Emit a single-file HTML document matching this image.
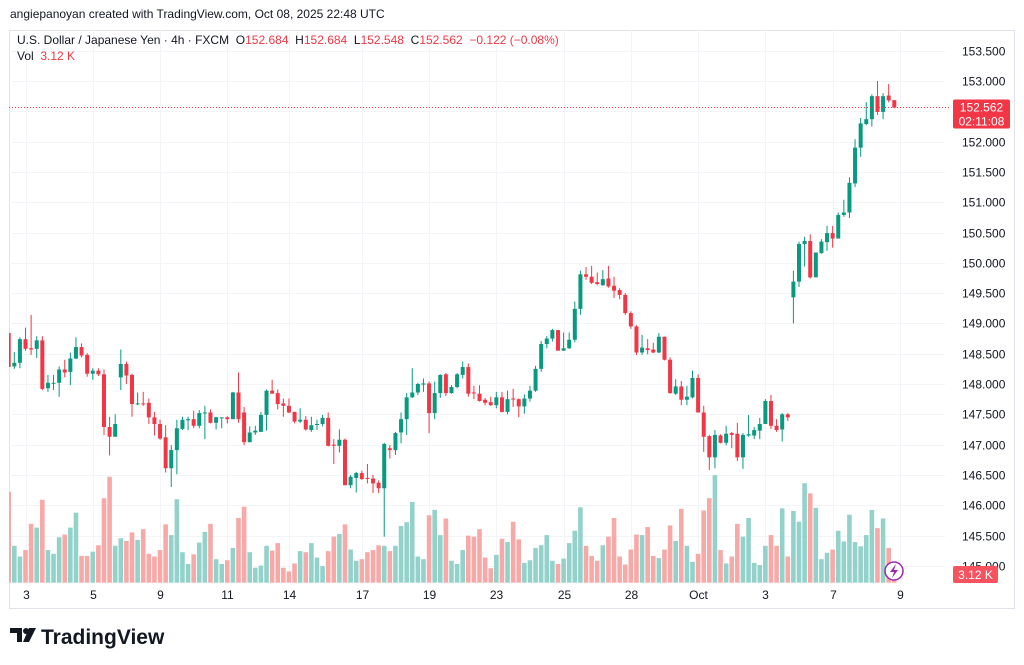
<!DOCTYPE html>
<html>
<head>
<meta charset="utf-8">
<style>
html,body{margin:0;padding:0;background:#fff;}
body{width:1024px;height:665px;position:relative;overflow:hidden;font-family:"Liberation Sans",sans-serif;color:#131722;}
.t{position:absolute;font-size:12px;white-space:nowrap;}
.red{color:#f23645;}
</style>
</head>
<body>
<svg id="chart" width="1024" height="665" style="position:absolute;left:0;top:0;" xmlns="http://www.w3.org/2000/svg">
<defs><clipPath id="pane"><rect x="9" y="30" width="936" height="553"/></clipPath></defs>
<rect x="9.5" y="30.5" width="1005" height="578" fill="none" stroke="#e0e3eb"/>
<g id="grid"></g>
<g id="vols" clip-path="url(#pane)"></g>
<g id="candles" clip-path="url(#pane)"></g>
<g id="axes"></g>
</svg>

<div class="t" style="left:10px;top:7px;font-size:12px;">angiepanoyan created with TradingView.com, Oct 08, 2025 22:48 UTC</div>
<div class="t" style="left:17px;top:33px;">U.S. Dollar / Japanese Yen · 4h · FXCM &nbsp;O<span class="red">152.684</span> &nbsp;H<span class="red">152.684</span> &nbsp;L<span class="red">152.548</span> &nbsp;C<span class="red">152.562</span> &nbsp;<span class="red">−0.122 (−0.08%)</span></div>
<div class="t" style="left:17px;top:49px;">Vol &nbsp;<span class="red">3.12 K</span></div>

<svg width="200" height="30" style="position:absolute;left:8px;top:623px">
<path d="M2 5h12v14h-5v-9h-7z" fill="#131722"/>
<circle cx="18" cy="8" r="3" fill="#131722"/>
<path d="M21 5h7l-7 14h-6z" fill="#131722"/>
<text x="33" y="21" font-family="Liberation Sans, sans-serif" font-size="21" font-weight="bold" fill="#131722">TradingView</text>
</svg>

<script>
const opens =  [148.84,148.29,148.35,148.74,148.59,148.58,148.72,147.93,148.01,148.02,148.24,148.20,148.42,148.61,148.48,148.17,148.22,148.16,147.29,147.13,148.11,148.33,148.15,147.67,147.68,147.69,147.45,147.34,147.12,146.61,146.91,147.26,147.40,147.42,147.31,147.52,147.53,147.36,147.44,147.45,147.42,147.86,147.53,147.04,147.20,147.21,147.49,147.89,147.85,147.68,147.64,147.54,147.38,147.41,147.24,147.33,147.34,147.44,147.00,146.98,147.08,146.33,146.45,146.53,146.45,146.44,146.37,146.28,146.94,146.91,147.20,147.42,147.78,147.86,147.99,148.01,147.52,147.85,148.16,147.85,147.95,148.15,148.28,147.86,147.84,147.74,147.70,147.65,147.78,147.54,147.76,147.75,147.63,147.76,147.89,148.25,148.66,148.75,148.89,148.55,148.59,148.73,149.24,149.81,149.77,149.68,149.63,149.74,149.62,149.55,149.47,149.17,148.95,148.52,148.59,148.57,148.52,148.78,148.40,147.84,147.96,147.74,147.78,148.10,147.53,147.14,146.79,147.15,147.03,147.19,147.18,146.79,147.15,147.15,147.23,147.34,147.72,147.31,147.25,147.50,149.43,149.69,150.31,150.36,149.76,150.16,150.34,150.49,150.40,150.79,150.83,151.31,151.90,152.29,152.37,152.75,152.49,152.76,152.684];
const highs =  [148.84,148.53,148.77,148.93,149.14,148.79,148.79,148.15,148.15,148.29,148.40,148.52,148.77,148.67,148.51,148.26,148.26,148.24,147.46,147.50,148.57,148.37,148.17,147.86,147.87,147.76,147.54,147.41,147.32,146.99,147.41,147.46,147.46,147.56,147.57,147.64,147.58,147.46,147.45,147.47,147.87,148.19,147.62,147.30,147.31,147.54,147.91,148.07,147.91,147.76,147.76,147.54,147.60,147.47,147.46,147.41,147.49,147.53,147.09,147.25,147.10,146.50,146.55,146.57,146.68,146.50,146.41,147.03,146.99,147.21,147.53,147.85,148.26,148.02,148.09,148.04,148.04,148.16,148.18,147.98,148.18,148.37,148.34,147.97,147.98,147.77,147.79,147.87,147.87,147.89,147.92,147.76,147.83,147.97,148.30,148.71,148.79,148.91,148.89,148.85,148.85,149.36,149.87,149.93,149.95,149.84,149.88,149.95,149.77,149.58,149.50,149.20,148.97,148.81,148.74,148.68,148.84,148.78,148.44,148.08,148.05,147.97,148.22,148.16,147.64,147.16,147.24,147.17,147.31,147.21,147.36,147.19,147.49,147.29,147.44,147.75,147.82,147.42,147.52,147.52,149.87,150.35,150.43,150.47,150.17,150.39,150.61,150.61,150.83,151.04,151.41,152.04,152.39,152.65,152.78,153.00,152.80,152.95,152.684];
const lows =   [148.28,148.25,148.26,148.55,148.48,148.43,147.90,147.87,147.90,147.79,148.11,147.98,148.41,148.44,148.12,148.07,148.13,147.16,146.82,147.13,147.90,148.00,147.46,147.65,147.64,147.34,147.15,147.08,146.54,146.30,146.51,147.24,147.24,147.27,147.27,147.09,147.35,147.25,147.27,147.35,147.42,147.36,146.99,147.04,147.16,147.21,147.23,147.84,147.58,147.46,147.52,147.35,147.36,147.23,147.21,147.24,147.30,146.97,146.68,146.87,146.33,146.28,146.21,146.42,146.36,146.20,146.20,145.48,146.77,146.83,147.02,147.16,147.77,147.82,147.87,147.19,147.42,147.77,147.80,147.84,147.93,148.09,147.79,147.75,147.71,147.65,147.64,147.60,147.53,147.50,147.62,147.45,147.51,147.71,147.87,148.20,148.59,148.70,148.55,148.55,148.58,148.69,149.14,149.72,149.65,149.63,149.62,149.59,149.42,149.40,149.14,148.91,148.48,148.48,148.49,148.51,148.51,148.39,147.84,147.82,147.65,147.65,147.76,147.53,146.88,146.58,146.61,147.02,146.99,146.94,146.73,146.60,147.13,147.09,147.09,147.34,147.26,147.21,147.05,147.39,149.00,149.60,149.94,149.74,149.76,150.15,150.20,150.25,150.40,150.76,150.74,151.25,151.75,152.27,152.25,152.44,152.37,152.65,152.548];
const closes = [148.28,148.35,148.74,148.58,148.57,148.72,147.92,148.02,148.02,148.24,148.19,148.42,148.61,148.47,148.17,148.22,148.16,147.29,147.13,147.34,148.33,148.14,147.67,147.68,147.67,147.45,147.34,147.10,146.61,146.91,147.27,147.41,147.42,147.31,147.52,147.53,147.36,147.45,147.45,147.42,147.86,147.42,147.04,147.20,147.23,147.49,147.89,147.84,147.67,147.64,147.53,147.38,147.41,147.25,147.32,147.34,147.44,146.98,146.98,147.08,146.33,146.47,146.53,146.43,146.44,146.36,146.28,147.01,146.91,147.19,147.42,147.78,147.86,148.00,148.01,147.52,147.85,148.15,147.85,147.95,148.16,148.28,147.84,147.85,147.72,147.69,147.65,147.78,147.54,147.75,147.75,147.63,147.76,147.89,148.25,148.66,148.75,148.89,148.55,148.59,148.73,149.24,149.81,149.77,149.67,149.65,149.73,149.61,149.54,149.47,149.17,148.95,148.52,148.60,148.56,148.52,148.78,148.40,147.85,147.96,147.74,147.79,148.10,147.53,147.13,146.79,147.16,147.03,147.18,147.16,146.79,147.16,147.17,147.24,147.34,147.72,147.31,147.24,147.50,147.45,149.69,150.31,150.36,149.76,150.17,150.35,150.49,150.40,150.79,150.83,151.32,151.90,152.30,152.37,152.75,152.49,152.75,152.68,152.562];
const volumes = [17.0,6.9,4.9,6.1,11.0,10.3,15.5,6.1,5.4,8.5,9.0,10.3,13.1,5.0,5.0,5.8,7.0,15.8,19.8,6.9,8.3,7.8,9.4,8.0,10.0,5.4,4.9,6.1,10.9,8.9,15.6,5.7,3.5,5.3,7.5,9.5,11.0,4.4,3.5,4.2,6.5,12.1,14.2,5.7,2.8,3.2,6.9,6.0,7.4,2.8,2.1,3.6,5.9,5.7,7.4,4.7,3.1,5.9,8.6,9.1,10.9,6.2,4.1,4.4,5.7,6.1,7.0,6.9,5.9,6.9,10.6,11.3,15.1,4.9,4.4,12.6,13.6,8.9,12.0,4.1,3.5,6.1,8.8,8.6,10.0,4.7,2.7,5.2,8.2,7.6,11.4,8.1,3.7,4.2,6.5,7.0,8.9,4.1,3.5,4.5,7.4,9.7,14.1,6.9,5.0,4.1,7.0,8.6,12.1,4.9,3.4,6.2,9.0,8.9,10.4,5.0,4.6,6.2,10.7,7.8,13.8,6.9,3.9,5.4,13.5,15.8,20.1,6.1,3.6,4.9,11.0,8.6,12.1,3.7,3.3,6.9,8.9,6.9,13.9,4.9,13.4,11.4,18.6,16.7,14.0,4.4,5.6,6.2,9.7,7.7,12.7,7.6,6.8,8.9,13.6,10.2,12.0,6.5,3.12];
const priceTicks = [145.0,145.5,146.0,146.5,147.0,147.5,148.0,148.5,149.0,149.5,150.0,150.5,151.0,151.5,152.0,152.5,153.0,153.5];
const timeLabels = ["3","5","9","11","14","17","19","23","25","28","Oct","3","7","9"];
const timeLabelIdx = [3,15,27,39,50,63,75,87,99,111,123,135,147,159];
const lastPrice = 152.562;
const lastVolLabel = "3.12 K";

const NS = "http://www.w3.org/2000/svg";
const xOf = i => 8.7 + 5.605 * i;
const yOf = p => 81 + (153 - p) * 60.6;
const vTop = v => 582.7 - v * 5.35;
function mk(tag, attrs, parent){const e=document.createElementNS(NS,tag);for(const k in attrs)e.setAttribute(k,attrs[k]);parent.appendChild(e);return e;}

const grid=document.getElementById('grid'), axes=document.getElementById('axes');
priceTicks.forEach(p=>{
  const y=Math.round(yOf(p))+0.5;
  const l=mk('line',{x1:9,x2:945,y1:y,y2:y,stroke:'#f2f4f8'},grid);
  
  
  if(y>36 && y<600){
    const t=mk('text',{x:962,y:y+4,'font-size':12,'font-family':'Liberation Sans, sans-serif',fill:'#131722'},axes);
    t.textContent=p.toFixed(3);
    
    
  }
});
timeLabels.forEach((s,k)=>{
  const x=Math.round(xOf(timeLabelIdx[k]))+0.5;
  const l=mk('line',{x1:x,x2:x,y1:30,y2:583,stroke:'#f2f4f8'},grid);
  
  
  const t=mk('text',{x:x,y:599,'font-size':12,'text-anchor':'middle','font-family':'Liberation Sans, sans-serif',fill:'#131722'},axes);
  t.textContent=s;
  
  
});

const vg=document.getElementById('vols'), cg=document.getElementById('candles');
opens.forEach((o,i)=>{
  const c=closes[i], up=c>=o, x=xOf(i);
  const vt=vTop(volumes[i]);
  const vb=mk('rect',{x:x-2.3,y:vt,width:4.6,height:582.7-vt,fill:up?'#92d2cb':'#f7a9a7'},vg);
  
  
  const col=up?'#089981':'#f23645';
  const w=mk('line',{x1:x,x2:x,y1:yOf(highs[i]),y2:yOf(lows[i]),stroke:col,'stroke-width':1},cg);
  
  
  const yt=yOf(Math.max(o,c)), yb=yOf(Math.min(o,c));
  const b=mk('rect',{x:x-2,y:yt,width:4,height:Math.max(1,yb-yt),fill:col},cg);
  
  
});

const ly=yOf(lastPrice);
const pl=mk('line',{x1:9,x2:950,y1:ly,y2:ly,stroke:'#f23645','stroke-width':1,'stroke-dasharray':'1 2'},axes);


const pb=mk('rect',{x:953,y:ly-8,width:57,height:29,rx:2,fill:'#f23645'},axes);


const pt=mk('text',{x:981.5,y:ly+4,'font-size':12,'text-anchor':'middle','font-family':'Liberation Sans, sans-serif',fill:'#fff'},axes);
pt.textContent=lastPrice.toFixed(3);


const ct=mk('text',{x:981.5,y:ly+18,'font-size':12,'text-anchor':'middle','font-family':'Liberation Sans, sans-serif',fill:'#fff'},axes);
ct.textContent='02:11:08';


const vbx=mk('rect',{x:953,y:566,width:45,height:17,rx:2,fill:'#f7525f'},axes);


const vtx=mk('text',{x:975.5,y:579,'font-size':12,'text-anchor':'middle','font-family':'Liberation Sans, sans-serif',fill:'#fff'},axes);
vtx.textContent=lastVolLabel;


const ic=mk('circle',{cx:894,cy:571,r:9,fill:'#fff',stroke:'#9c27b0','stroke-width':1.5},axes);


const ip=mk('path',{d:'M896 564 L890 572 L894 572 L892 578 L898 570 L894 570 Z',fill:'#9c27b0'},axes);


</script>
</body>
</html>
